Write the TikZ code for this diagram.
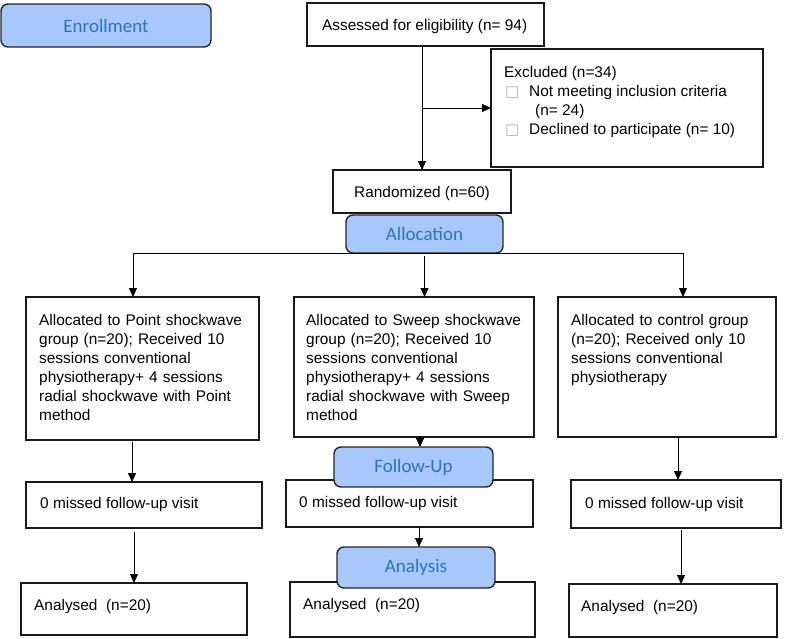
\documentclass[tikz,border=0pt]{standalone}
\usepackage{fontspec}
\setmainfont{Liberation Sans}
\newfontfamily\lblfont{Carlito}
\newfontfamily\symfont{DejaVu Sans}
\usetikzlibrary{arrows.meta}
\definecolor{hdrfill}{RGB}{168,199,250}
\definecolor{hdrtext}{RGB}{46,117,182}
\newcommand{\bul}{{\symfont\color{black!30}\fontsize{15}{17}\selectfont □}}
\begin{document}
\begin{tikzpicture}[x=1pt,y=-1pt,
  box/.style={draw=black!90, line width=1.2pt, fill=white, inner sep=0pt, outer sep=0pt},
  hdr/.style={draw=black!85, line width=1.4pt, fill=hdrfill, rounded corners=7pt, inner sep=0pt, outer sep=0pt, text=hdrtext, font=\lblfont\fontsize{19}{22}\selectfont},
  txt/.style={inner sep=0pt, anchor=base west, font=\fontsize{15.4}{19}\selectfont},
  mtxt/.style={txt, text width=235pt, align=left},
  arr/.style={line width=0.9pt, -{Triangle[length=9pt,width=8pt]}}]
\useasboundingbox (0,0) rectangle (787,638);
% white boxes
\node[box, minimum width=237, minimum height=43] (ass) at (425.5,24.5) {};
\node[box, minimum width=272, minimum height=118] (excl) at (627,108) {};
\node[box, minimum width=178, minimum height=43] (rnd) at (422,191.5) {};
\node[box, minimum width=233, minimum height=143] (boxL) at (142.5,368.5) {};
\node[box, minimum width=240, minimum height=140] (boxM) at (414,367) {};
\node[box, minimum width=218, minimum height=140] (boxR) at (667,367) {};
\node[box, minimum width=236, minimum height=46] (missL) at (144,505) {};
\node[box, minimum width=247, minimum height=47] (missM) at (409.5,503.5) {};
\node[box, minimum width=210, minimum height=48] (missR) at (676,504) {};
\node[box, minimum width=226, minimum height=52] (anL) at (134,609) {};
\node[box, minimum width=245, minimum height=55] (anM) at (412.5,609.5) {};
\node[box, minimum width=208, minimum height=53] (anR) at (673,610.5) {};
% texts
\node[txt] (tass) at (322,30) {Assessed for eligibility (n= 94)};
\node[txt] (trnd) at (354,197) {Randomized (n=60)};
\node[txt] (tex1) at (504,77) {Excluded (n=34)};
\node[txt] (tb1) at (505,96) {\bul};
\node[txt] (tex2) at (529,96) {Not meeting inclusion criteria};
\node[txt] (tex3) at (535,115) {(n= 24)};
\node[txt] (tb2) at (505,134) {\bul};
\node[txt] (tex4) at (529,134) {Declined to participate (n= 10)};
\node[mtxt] (tL) at (39,325) {Allocated to Point shockwave\\group (n=20); Received 10\\sessions conventional\\physiotherapy+ 4 sessions\\radial shockwave with Point\\method};
\node[mtxt] (tM) at (306,325) {Allocated to Sweep shockwave\\group (n=20); Received 10\\sessions conventional\\physiotherapy+ 4 sessions\\radial shockwave with Sweep\\method};
\node[mtxt] (tR) at (571,325) {Allocated to control group\\(n=20); Received only 10\\sessions conventional\\physiotherapy};
\node[txt] (tmL) at (40,508) {0 missed follow-up visit};
\node[txt] (tmM) at (299,507) {0 missed follow-up visit};
\node[txt] (tmR) at (585,508) {0 missed follow-up visit};
\node[txt] (taL) at (34,610) {Analysed\ \ (n=20)};
\node[txt] (taM) at (303,609) {Analysed\ \ (n=20)};
\node[txt] (taR) at (581,611) {Analysed\ \ (n=20)};
% header boxes
\node[hdr, minimum width=210, minimum height=43] (enr) at (106,25.5) {Enrollment};
\node[hdr, minimum width=157, minimum height=38] (alloc) at (424.5,234) {Allocation};
\node[hdr, minimum width=159, minimum height=40] (fu) at (413.5,467) {Follow-Up};
\node[hdr, minimum width=158, minimum height=41] (an) at (416,567.5) {Analysis};
% helper coordinates
\coordinate (lt) at (133,297);
\coordinate (rt) at (683,297);
\coordinate (xl1) at (132,0);
\coordinate (xl2) at (134,0);
\coordinate (xm1) at (420,0);
\coordinate (xm2) at (419,0);
\coordinate (xr1) at (678,0);
\coordinate (xr2) at (681,0);
% connectors
\draw[arr] (ass.south -| rnd.north) -- (rnd.north);
\draw[arr] (excl.west -| rnd.north) -- (excl.west);
\draw[arr] (alloc.south) -| (lt);
\draw[arr] (alloc.south) -| (rt);
\draw[arr] ([yshift=-3pt]alloc.south) -- (alloc.south |- boxM.north);
\draw[arr] ([yshift=-2pt]boxL.south -| xl1) -- (missL.north -| xl1);
\draw[arr] ([yshift=-4pt]missL.south -| xl2) -- (anL.north -| xl2);
\draw[arr] (boxM.south -| xm1) -- (fu.north -| xm1);
\draw[arr] (missM.south -| xm2) -- (an.north -| xm2);
\draw[arr] (boxR.south -| xr1) -- (missR.north -| xr1);
\draw[arr] ([yshift=-2pt]missR.south -| xr2) -- (anR.north -| xr2);
\end{tikzpicture}
\end{document}
